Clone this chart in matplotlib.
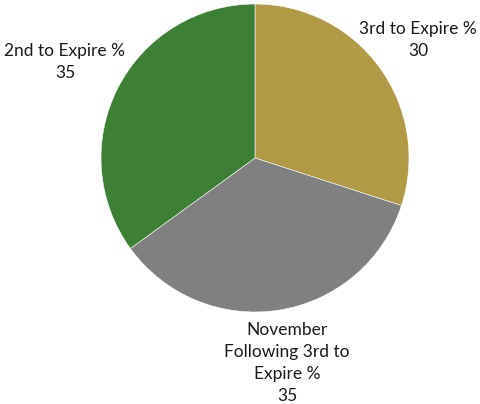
import matplotlib
matplotlib.use("Agg")
import matplotlib.pyplot as plt

labels = ["3rd to Expire %", "November\nFollowing 3rd to\nExpire %", "2nd to Expire %"]
values = [30, 35, 35]
colors = ["#B09A45", "#808080", "#3D7F34"]

W, H = 480, 404
fig = plt.figure(figsize=(W / 100, H / 100), dpi=100)
cx, cy, r = 255, 158, 154
ax = fig.add_axes([(cx - r) / W, (H - cy - r) / H, 2 * r / W, 2 * r / H])
ax.pie(values, colors=colors, startangle=90, counterclock=False,
       wedgeprops=dict(edgecolor="white", linewidth=0.4), radius=1)
ax.set_xlim(-1, 1)
ax.set_ylim(-1, 1)
ax.set_aspect("equal")
ax.axis("off")

# label block centres (pixel coords)
label_pos = [(418, 40), (287, 363), (65, 62)]
for lab, val, (px, py) in zip(labels, values, label_pos):
    fig.text(px / W, 1 - py / H, f"{lab}\n{val}", ha="center", va="center",
             fontsize=12.5, family="Lato", color="#1a1a1a", linespacing=1.45)

fig.savefig("out.png", dpi=100)
